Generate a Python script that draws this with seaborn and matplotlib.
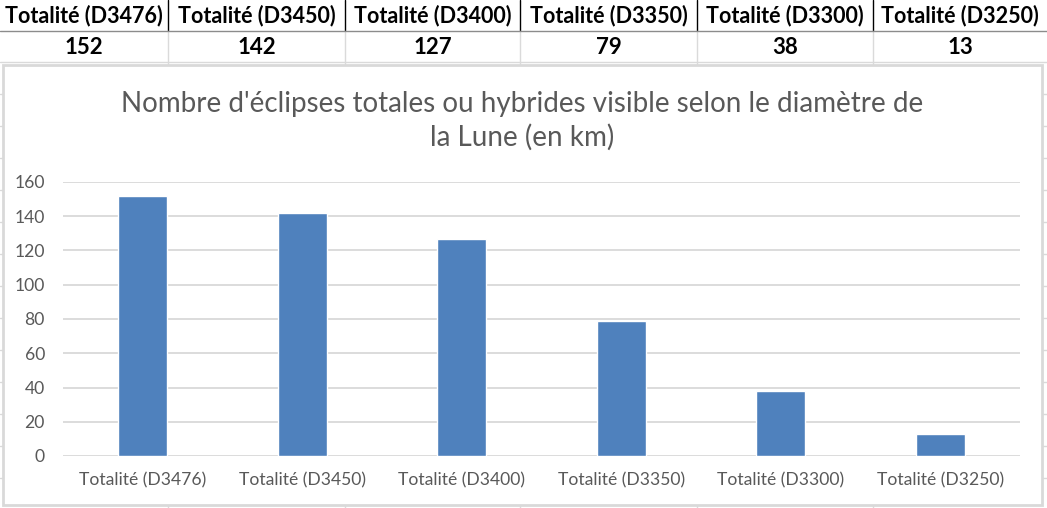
import numpy as np
import pandas as pd
import seaborn as sns
import matplotlib.pyplot as plt
from matplotlib.patches import Rectangle
from matplotlib.lines import Line2D

categories = ['Totalité (D3476)', 'Totalité (D3450)', 'Totalité (D3400)',
              'Totalité (D3350)', 'Totalité (D3300)', 'Totalité (D3250)']
counts = [152, 142, 127, 79, 38, 13]
title = "Nombre d'éclipses totales ou hybrides visible selon le diamètre de\nla Lune (en km)"

sns.set_style('white')
plt.rcParams['font.family'] = ['Lato', 'DejaVu Sans']

W, H = 1047, 508
fig = plt.figure(figsize=(W / 100, H / 100), dpi=100)

def fx(x):
    return x / W

def fy(y):
    return 1 - y / H

# spreadsheet background grid (rows outside the chart)
for y in range(62, H, 32):
    fig.add_artist(Line2D([0, 1], [fy(y), fy(y)], color='#dadada', lw=1))
col_edges = [0, 168, 345, 520, 697, 873, 1047]
for x in col_edges[1:-1]:
    fig.add_artist(Line2D([fx(x), fx(x)], [fy(0), fy(31)], color='black', lw=1))
    fig.add_artist(Line2D([fx(x), fx(x)], [fy(31), fy(H)], color='#dadada', lw=1))
fig.add_artist(Line2D([0, 1], [fy(31), fy(31)], color='#8c8c8c', lw=1))

# header + values row
for i, (cat, val) in enumerate(zip(categories, counts)):
    cx = fx((col_edges[i] + col_edges[i + 1]) / 2)
    fig.text(cx, fy(16), cat, ha='center', va='center', fontsize=15.5,
             fontweight='bold', color='black')
    fig.text(cx, fy(47), str(val), ha='center', va='center', fontsize=16,
             fontweight='bold', color='black')

# chart box
fig.add_artist(Rectangle((fx(3), fy(505)), fx(1039), (505 - 65) / H,
                         facecolor='white', edgecolor='#d9d9d9', lw=2, zorder=2))

ax = fig.add_axes([fx(63), fy(456), fx(1020 - 63), (456 - 182) / H], zorder=3)
ax.patch.set_alpha(0)
df = pd.DataFrame({'cat': categories, 'n': counts})
sns.barplot(data=df, x='cat', y='n', color='#4f81bd', saturation=1,
            width=0.31, ax=ax, zorder=3)
ax.set_ylim(0, 160)
ax.set_xlim(-0.5, len(categories) - 0.5)
ax.set_yticks(np.arange(0, 161, 20))
ax.yaxis.grid(True, color='#d9d9d9', lw=1.3)
ax.set_axisbelow(True)
for s in ax.spines.values():
    s.set_visible(False)
ax.tick_params(axis='both', length=0, labelsize=12.6, labelcolor='#595959')
ax.tick_params(axis='y', pad=13)
ax.tick_params(axis='x', pad=12)
ax.set_xlabel('')
ax.set_ylabel('')

fig.text(fx(522), fy(121), title, ha='center', va='center', fontsize=20,
         color='#595959', linespacing=1.3, zorder=4)

fig.savefig('out.png', dpi=100)
